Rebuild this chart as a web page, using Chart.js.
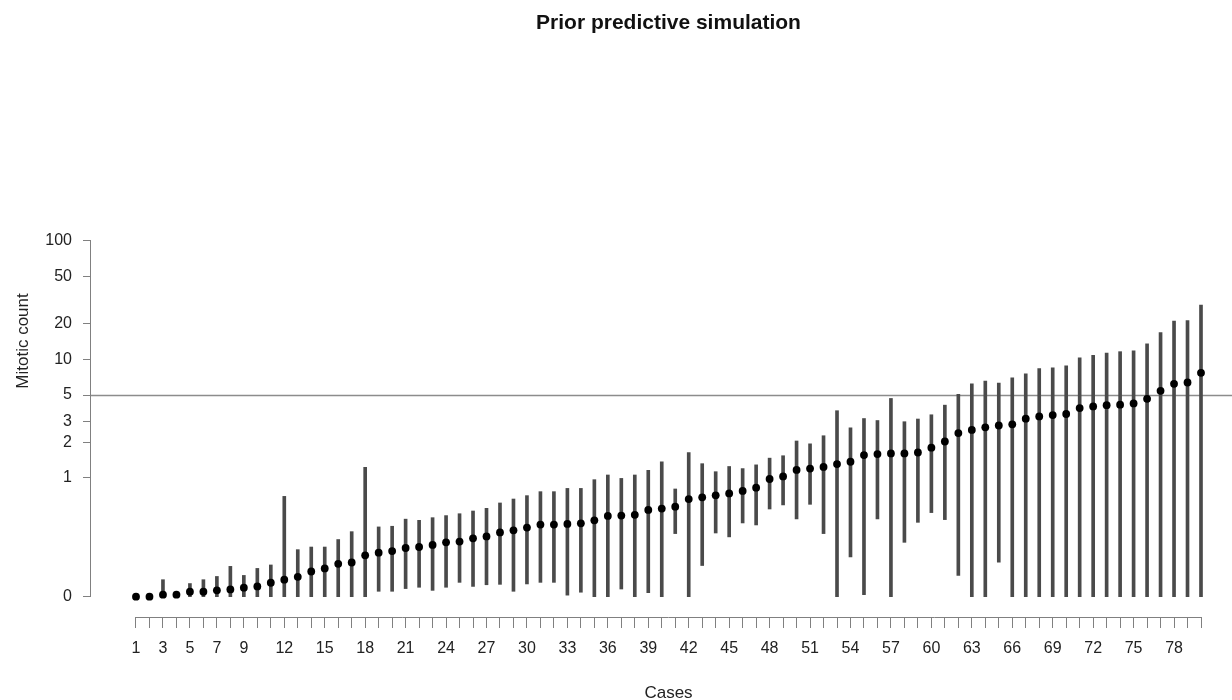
<!DOCTYPE html>
<html>
<head>
<meta charset="utf-8">
<script src="https://cdn.jsdelivr.net/npm/chart.js@4.4.0/dist/chart.umd.min.js"></script>
<style>
html,body{margin:0;padding:0;background:#fff;overflow:hidden;}
#wrap{width:1232px;height:700px;position:relative;overflow:hidden;}
canvas{display:block;}
</style>
</head>
<body>
<div id="wrap"><canvas id="c" width="1250" height="700"></canvas></div>
<script>
// ---------- data ----------
const cases = [1,2,3,4,5,6,7,8,9,10,11,12,13,14,15,16,17,18,19,20,
  21,22,23,24,25,26,27,28,29,30,31,32,33,34,35,36,37,38,39,40,
  41,42,43,44,45,46,47,48,49,50,51,52,53,54,55,56,57,58,59,60,
  61,62,63,64,65,66,67,68,69,70,71,72,73,74,75,76,77,78,79,80];

const median = [0,0,0.104,0.104,0.110,0.110,0.113,0.115,0.119,0.122,
  0.131,0.139,0.147,0.163,0.173,0.189,0.194,0.223,0.235,0.242,
  0.257,0.262,0.273,0.287,0.291,0.310,0.322,0.348,0.362,0.382,
  0.405,0.405,0.410,0.415,0.440,0.479,0.482,0.489,0.538,0.552,
  0.573,0.664,0.687,0.714,0.741,0.778,0.829,0.981,1.03,1.17,
  1.20,1.24,1.31,1.37,1.56,1.59,1.61,1.61,1.64,1.80,
  2.03,2.39,2.54,2.67,2.77,2.83,3.16,3.30,3.39,3.46,
  3.88,4.01,4.11,4.15,4.25,4.65,5.43,6.22,6.38,7.70];

const lower = [0,0,0,0.104,0,0,0,0,0,0,
  0,0,0,0,0,0,0,0,0.111,0.111,
  0.117,0.120,0.113,0.120,0.132,0.122,0.126,0.127,0.111,0.128,
  0.132,0.132,0.103,0.109,0,0,0.116,0,0.108,0,
  0.340,0,0.183,0.344,0.319,0.418,0.402,0.548,0.593,0.452,
  0.600,0.340,0,0.216,0.104,0.452,0,0.287,0.423,0.511,
  0.446,0.151,0,0,0.195,0,0,0,0,0,
  0,0,0,0,0,0,0,0,0,0];

const upper = [0,0,0.139,0.104,0.129,0.139,0.148,0.180,0.151,0.173,
  0.185,0.700,0.249,0.262,0.262,0.303,0.353,1.23,0.387,0.392,
  0.450,0.440,0.463,0.482,0.500,0.527,0.555,0.616,0.665,0.710,
  0.767,0.767,0.817,0.817,0.968,1.06,0.992,1.06,1.16,1.37,
  0.808,1.64,1.32,1.13,1.25,1.20,1.29,1.47,1.54,2.05,
  1.94,2.27,3.69,2.65,3.17,3.05,4.68,2.98,3.14,3.41,
  4.11,5.06,6.22,6.55,6.30,6.99,7.55,8.37,8.48,8.81,
  10.3,10.8,11.3,11.6,11.8,13.5,16.8,21.0,21.2,28.6];

const yTickValues = [0,1,2,3,5,10,20,50,100];
const xLabelCases = [1,3,5,7,9,12,15,18,21,24,27,30,33,36,39,42,45,48,51,54,57,60,63,66,69,72,75,78];
const threshold = 5;
const ZERO_AT = 0.1; // where a count of 0 sits on the log axis

const titleText = 'Prior predictive simulation';
const xTitle = 'Cases';
const yTitle = 'Mitotic count';

// ---------- helpers ----------
const toPlot = v => Math.max(v, ZERO_AT);
const FONT = '"Liberation Sans", Arial, Helvetica, sans-serif';
Chart.defaults.font.family = FONT;

const axisLinePlugin = {
  id: 'axisLines',
  beforeDatasetsDraw(chart) {
    const {ctx, chartArea, scales: {y}} = chart;
    const py = Math.round(y.getPixelForValue(threshold)) + 0.5;
    ctx.save();
    ctx.strokeStyle = '#8c8c8c';
    ctx.lineWidth = 1.6;
    ctx.beginPath();
    ctx.moveTo(chartArea.left, py);
    ctx.lineTo(chartArea.right, py);
    ctx.stroke();
    ctx.restore();
  },
  afterDraw(chart) {
    const {ctx, chartArea, scales: {x, y}} = chart;
    ctx.save();
    ctx.strokeStyle = '#808080';
    ctx.lineWidth = 1;
    const xb = Math.round(chartArea.bottom) + 0.5;
    ctx.beginPath();
    ctx.moveTo(x.getPixelForValue(cases[0]), xb);
    ctx.lineTo(x.getPixelForValue(cases[cases.length - 1]), xb);
    ctx.stroke();
    const yl = Math.round(chartArea.left) - 0.5;
    ctx.beginPath();
    ctx.moveTo(yl, y.getPixelForValue(toPlot(yTickValues[0])));
    ctx.lineTo(yl, y.getPixelForValue(toPlot(yTickValues[yTickValues.length - 1])));
    ctx.stroke();
    ctx.restore();
  }
};

new Chart(document.getElementById('c'), {
  type: 'bar',
  data: {
    datasets: [
      {
        type: 'bar',
        data: cases.map((c, i) => ({x: c, y: [toPlot(lower[i]), toPlot(upper[i])]})),
        backgroundColor: '#4a4a4a',
        borderWidth: 0,
        barThickness: 3,
        order: 2
      },
      {
        type: 'scatter',
        data: cases.map((c, i) => ({x: c, y: toPlot(median[i])})),
        pointRadius: 3.9,
        pointBackgroundColor: '#000',
        pointBorderColor: '#000',
        pointBorderWidth: 0,
        showLine: false,
        order: 1
      }
    ]
  },
  options: {
    responsive: false,
    animation: false,
    events: [],
    layout: {padding: {left: 0, right: 0, top: 0, bottom: 0}},
    plugins: {
      legend: {display: false},
      tooltip: {enabled: false},
      title: {
        display: true,
        text: titleText,
        fullSize: false,
        color: '#111',
        font: {size: 21, weight: 'bold', family: FONT},
        padding: {top: 10.4, bottom: 29.4}
      }
    },
    scales: {
      x: {
        type: 'linear',
        min: -2.338,
        max: 83.338,
        bounds: 'data',
        offset: false,
        afterBuildTicks: s => { s.ticks = cases.map(v => ({value: v})); },
        afterFit: s => { s.height = 83; },
        border: {display: false},
        grid: {display: true, offset: false, drawOnChartArea: false, drawTicks: true,
               tickLength: 11, tickColor: '#808080', tickWidth: 1},
        ticks: {
          autoSkip: false, maxRotation: 0, minRotation: 0, padding: 11,
          color: '#222', font: {size: 16, family: FONT},
          callback: v => xLabelCases.includes(v) ? String(v) : ''
        },
        title: {display: true, text: xTitle, color: '#222',
                font: {size: 17, family: FONT, lineHeight: 0.8},
                padding: {top: 0, bottom: 0}}
      },
      y: {
        type: 'logarithmic',
        min: 0.0674,
        max: 3020,
        bounds: 'data',
        afterBuildTicks: s => { s.ticks = yTickValues.map(v => ({value: toPlot(v)})); },
        afterFit: s => { s.width = 91; },
        border: {display: false},
        grid: {display: true, drawOnChartArea: false, drawTicks: true,
               tickLength: 8, tickColor: '#808080', tickWidth: 1},
        ticks: {
          padding: 11, color: '#222', font: {size: 16, family: FONT},
          callback: v => (v <= ZERO_AT + 1e-9 ? '0' : String(Math.round(v)))
        },
        title: {display: true, text: yTitle, color: '#222',
                font: {size: 17, family: FONT},
                padding: {top: 13, bottom: 0}}
      }
    }
  },
  plugins: [axisLinePlugin]
});
</script>
</body>
</html>
